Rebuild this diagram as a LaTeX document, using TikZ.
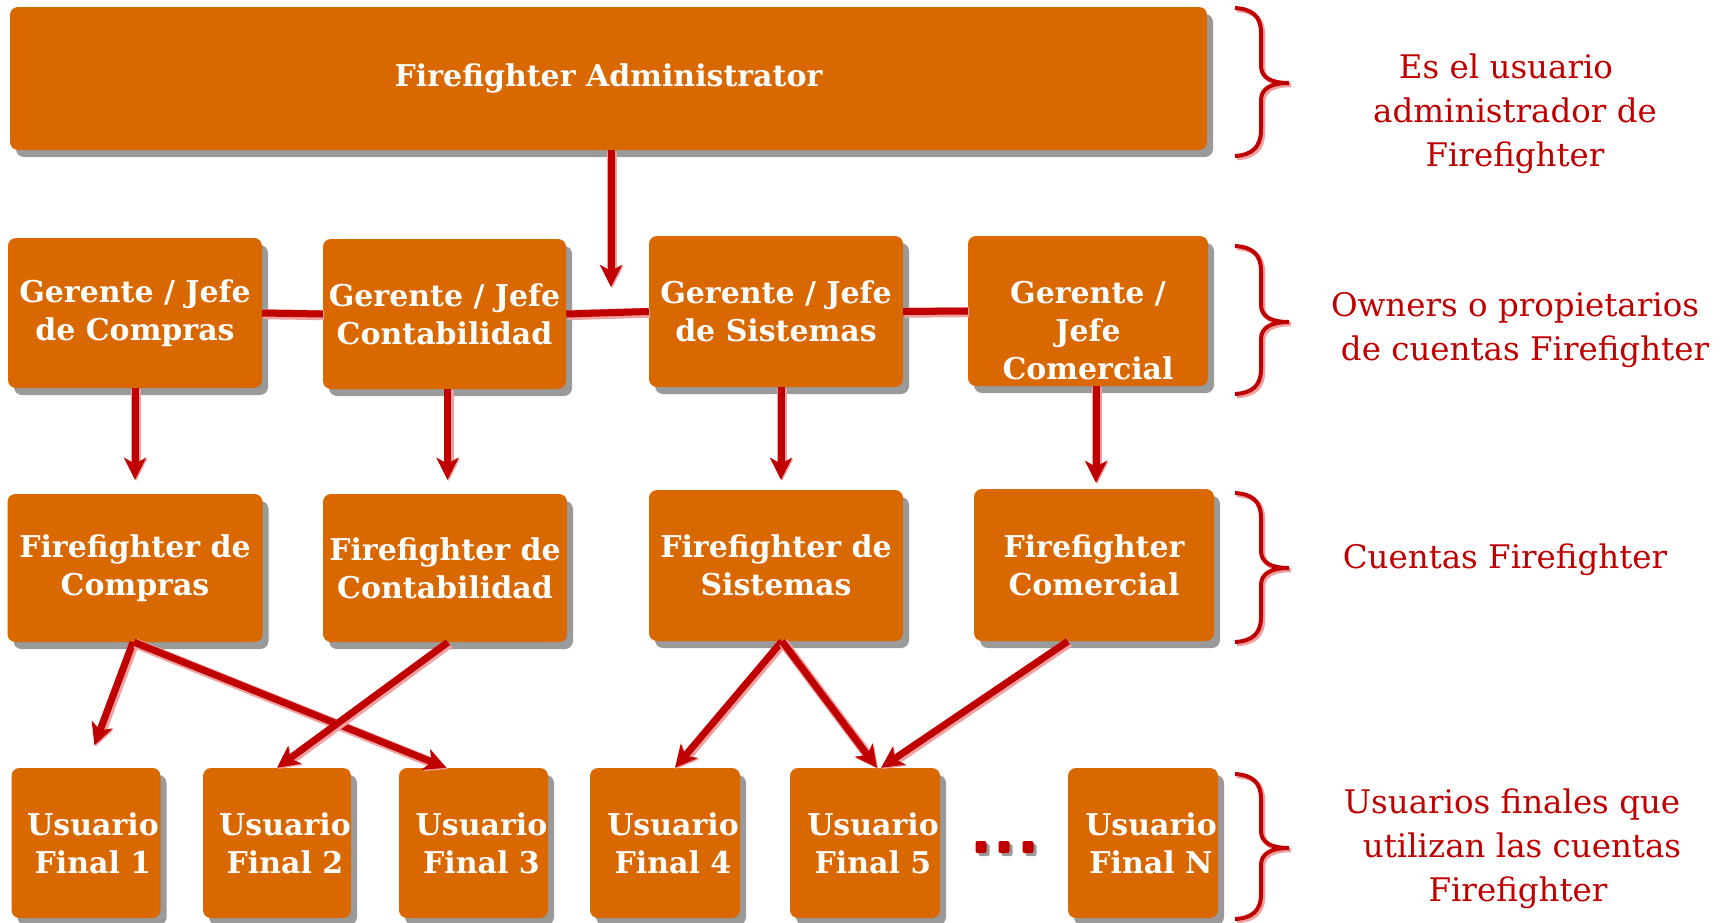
\documentclass[tikz,border=0pt]{standalone}
\usepackage{fontspec}
\setmainfont{DejaVu Serif}
\usetikzlibrary{arrows.meta,shadows,calc}
\definecolor{boxor}{HTML}{D96800}
\definecolor{shgray}{HTML}{9A9A9A}
\definecolor{dred}{HTML}{C00000}
\definecolor{glow}{HTML}{EFA0A0}
\begin{document}
\begin{tikzpicture}[x=1pt,y=-1pt,
  box/.style={rectangle, rounded corners=8pt, fill=boxor, inner sep=0pt, text=white,
    font=\bfseries\fontsize{30}{38}\selectfont, align=center,
    general shadow={fill=shgray, shadow xshift=6pt, shadow yshift=-7pt}},
  conn/.style={draw=dred, line width=7pt,
    preaction={draw=glow, line width=10pt, transform canvas={shift={(1.2,1.2)}}}},
  arr/.style={conn, -{Stealth[length=22pt,width=22pt,inset=6pt]}},
  brline/.style={draw=dred, line width=4pt,
    preaction={draw=glow, line width=4.5pt, transform canvas={shift={(2,2)}}}},
  note/.style={text=dred, font=\fontsize{32.5}{44}\selectfont, align=center, inner sep=0pt},
  dotbox/.style={rectangle, rounded corners=2pt, fill=dred, minimum width=11pt, minimum height=12pt, inner sep=0pt,
    general shadow={fill=shgray, shadow xshift=3pt, shadow yshift=-3pt}}
]
\fill[white] (0,0) rectangle (1721,922);
\useasboundingbox (0,0) rectangle (1721,922);

% boxes
\node[box, minimum width=1197pt, minimum height=143pt] (Admin) at (608.5,78.5) {Firefighter Administrator};

\node[box, minimum width=254pt, minimum height=150pt] (G1) at (135,313) {Gerente / Jefe\\de Compras};
\node[box, minimum width=243pt, minimum height=150pt] (G2) at (444.5,314) {Gerente / Jefe\\Contabilidad};
\node[box, minimum width=254pt, minimum height=151pt] (G3) at (776,311.5) {Gerente / Jefe\\de Sistemas};
\node[box, minimum width=240pt, minimum height=150pt] (G4) at (1088,311) {\rule{0pt}{62pt}Gerente /\\Jefe\\Comercial};

\node[box, minimum width=255pt, minimum height=148pt] (F1) at (135,568) {Firefighter de\\Compras};
\node[box, minimum width=244pt, minimum height=148pt] (F2) at (445,568) {Firefighter de\\Contabilidad};
\node[box, minimum width=254pt, minimum height=151pt] (F3) at (776,565.5) {Firefighter de\\Sistemas};
\node[box, minimum width=240pt, minimum height=152pt] (F4) at (1094,565) {Firefighter\\Comercial};

\node[box, minimum width=149pt, minimum height=150pt] (U1) at (86,843) {\hspace*{14pt}Usuario\\\hspace*{14pt}Final 1};
\node[box, minimum width=148pt, minimum height=150pt] (U2) at (277,843) {\hspace*{16pt}Usuario\\\hspace*{16pt}Final 2};
\node[box, minimum width=149pt, minimum height=150pt] (U3) at (473.5,843) {\hspace*{16pt}Usuario\\\hspace*{16pt}Final 3};
\node[box, minimum width=150pt, minimum height=150pt] (U4) at (665,843) {\hspace*{16pt}Usuario\\\hspace*{16pt}Final 4};
\node[box, minimum width=150pt, minimum height=150pt] (U5) at (865,843) {\hspace*{16pt}Usuario\\\hspace*{16pt}Final 5};
\node[box, minimum width=150pt, minimum height=150pt] (UN) at (1143,843) {\hspace*{16pt}Usuario\\\hspace*{16pt}Final N};

\node[dotbox] (d1) at (981,847) {};
\node[dotbox] (d2) at (1004,847) {};
\node[dotbox] (d3) at (1028,847) {};

% connectors
\coordinate (hub) at (611,315);
\draw[arr, shorten >=28pt] (hub |- Admin.south) -- (hub);
\draw[conn] (G1.east) -- (G2.west);
\draw[conn] (G2.east) -- (G3.west);
\draw[conn] (G3.east) -- (G4.west);

\draw[arr, shorten >=14pt] (G1.south) -- (G1.south |- F1.north);
\draw[arr, shorten >=14pt] ([xshift=3pt]G2.south) -- ([xshift=3pt]G2.south |- F2.north);
\draw[arr, shorten >=10pt] ([xshift=5pt]G3.south) -- ([xshift=5pt]G3.south |- F3.north);
\draw[arr, shorten >=6pt] ([xshift=8pt]G4.south) -- ([xshift=8pt]G4.south |- F4.north);

\draw[arr, shorten >=24pt] ([xshift=-2pt]F1.south) -- (U1.north);
\draw[arr] ([xshift=-1pt]F1.south) -- ([xshift=-27pt]U3.north);
\draw[arr] ([xshift=3pt]F2.south) -- (U2.north);
\draw[arr] ([xshift=6pt]F3.south) -- ([xshift=10pt]U4.north);
\draw[arr] ([xshift=6pt]F3.south) -- ([xshift=12pt]U5.north);
\draw[arr] ([xshift=-26pt]F4.south) -- ([xshift=16pt]U5.north);

% braces
\draw[brline] (1235,8) .. controls (1252,9) and (1261,16) .. (1261,33) -- (1261,66) .. controls (1261,78) and (1272,83) .. (1289,83) .. controls (1272,83) and (1261,88) .. (1261,100) -- (1261,130) .. controls (1261,147) and (1252,155) .. (1235,156);
\draw[brline] (1235,246) .. controls (1252,247) and (1261,254) .. (1261,271) -- (1261,305) .. controls (1261,317) and (1272,322) .. (1289,322) .. controls (1272,322) and (1261,327) .. (1261,339) -- (1261,369) .. controls (1261,386) and (1252,393) .. (1235,394);
\draw[brline] (1235,493) .. controls (1252,494) and (1261,501) .. (1261,518) -- (1261,551) .. controls (1261,563) and (1272,568) .. (1289,568) .. controls (1272,568) and (1261,573) .. (1261,585) -- (1261,617) .. controls (1261,634) and (1252,641) .. (1235,642);
\draw[brline] (1235,774) .. controls (1252,775) and (1261,782) .. (1261,799) -- (1261,831) .. controls (1261,843) and (1272,848) .. (1289,848) .. controls (1272,848) and (1261,853) .. (1261,865) -- (1261,894) .. controls (1261,911) and (1252,918) .. (1235,919);

% notes
\node[note] (t1) at (1515,114) {Es el usuario\hspace*{18pt}\\administrador de\\Firefighter};
\node[note] (t2) at (1515,330) {Owners o propietarios\\\hspace*{20pt}de cuentas Firefighter};
\node[note] (t3) at (1505,560) {Cuentas Firefighter};
\node[note] (t4) at (1512,849) {Usuarios finales que\\\hspace*{20pt}utilizan las cuentas\\\hspace*{12pt}Firefighter};
\end{tikzpicture}
\end{document}
